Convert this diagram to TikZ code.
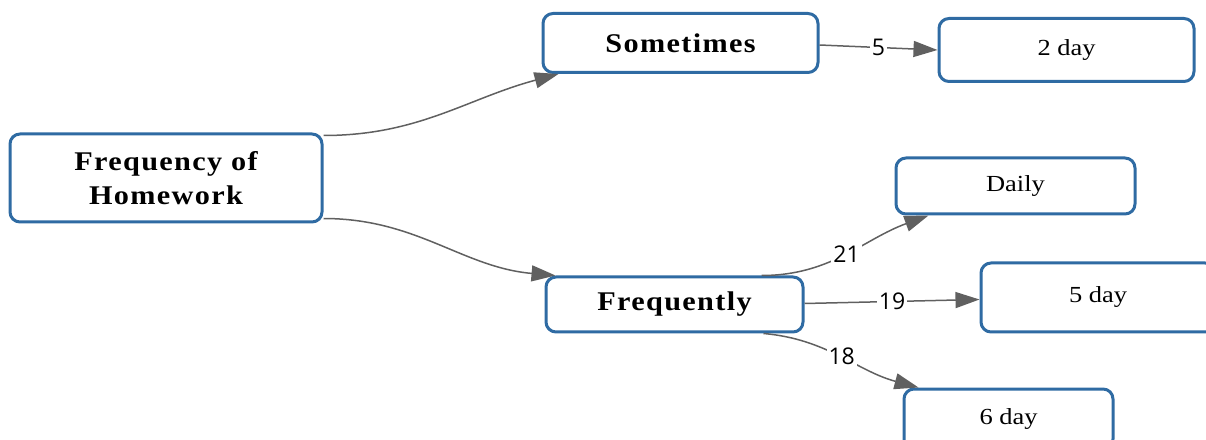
\documentclass[tikz,border=0pt]{standalone}
\usepackage{fontspec}
\setmainfont{Liberation Serif}
\newfontfamily\numfont{Open Sans}
\newfontfamily\headfont[FakeStretch=1.12,LetterSpace=5]{Liberation Serif}
\newfontfamily\leaffont[FakeStretch=1.15]{Liberation Serif}
\usetikzlibrary{arrows.meta}
\definecolor{boxblue}{HTML}{2F6BA3}
\definecolor{arrgray}{HTML}{606060}

\begin{document}
\begin{tikzpicture}
  [x=1pt,y=1pt,
   box/.style={draw=boxblue,line width=3pt,rounded corners=10pt,fill=white,inner sep=0pt},
   topbox/.style={box,font=\headfont\fontsize{27}{34}\selectfont\bfseries,align=center},
   leafbox/.style={box,font=\leaffont\fontsize{23}{27}\selectfont},
   arr/.style={draw=arrgray,line width=1.5pt,-{Triangle[length=24pt,width=16pt]}},
   lbl/.style={fill=white,inner sep=2pt,font=\numfont\fontsize{23}{27}\selectfont}]
  \useasboundingbox (0,0) rectangle (1206,439);

  \node[topbox,minimum width=312pt,minimum height=88pt] (freq) at (166,261) {Frequency of\\Homework};
  \node[topbox,minimum width=275pt,minimum height=59pt] (some) at (680.5,396) {Sometimes};
  \node[topbox,minimum width=257pt,minimum height=55pt] (freqly) at (674.5,134.5) {Frequently};
  \node[leafbox,minimum width=255pt,minimum height=63pt] (twoday) at (1066.5,389) {2 day};
  \node[leafbox,minimum width=239pt,minimum height=56pt] (daily) at (1015.5,253) {Daily};
  \node[leafbox,minimum width=234pt,minimum height=69pt] (fiveday) at (1098,141.5) {5 day};
  \node[leafbox,minimum width=209pt,minimum height=60pt] (sixday) at (1008.5,20) {6 day};

  \draw[arr] ([yshift=-3pt]freq.north east) to[out=0,in=195] ([xshift=17pt]some.south west);
  \draw[arr] ([yshift=5pt]freq.south east) to[out=0,in=175] ([xshift=11pt]freqly.north west);
  \draw[arr] ([yshift=-2pt]some.east) -- node[lbl] (l5) {5} (twoday.west);
  \draw[arr] ([xshift=-43pt]freqly.north east) to[out=0,in=200] node[lbl,pos=.5] (l21) {21} ([xshift=34pt]daily.south west);
  \draw[arr] ([yshift=1pt]freqly.east) -- node[lbl] (l19) {19} ([yshift=-2pt]fiveday.west);
  \draw[arr] ([xshift=-41pt]freqly.south east) to[out=-5,in=165] node[lbl,pos=.5] (l18) {18} ([xshift=16pt]sixday.north west);

\end{tikzpicture}
\end{document}
